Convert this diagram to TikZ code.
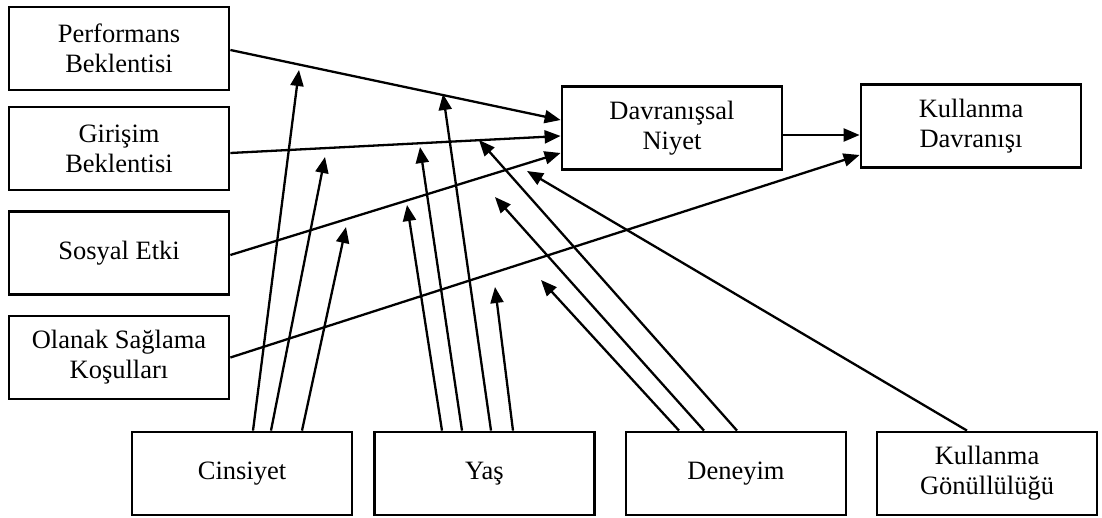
\documentclass[tikz,border=0pt]{standalone}
\usepackage{fontspec}
\setmainfont{Liberation Serif}
\usetikzlibrary{arrows.meta}
\tikzset{
  box/.style={draw, line width=2.8pt, minimum width=220pt, minimum height=83pt, inner sep=0pt, align=center, font=\fontsize{26.5}{30}\selectfont},
  conn/.style={line width=2.3pt, -{Triangle[length=16pt,width=13pt]}}
}
\begin{document}
\begin{tikzpicture}[x=1pt,y=-1pt]
\useasboundingbox (0,0) rectangle (1102,518);
% left boxes
\node[box] (perf) at (119,48.5) {Performans\\Beklentisi};
\node[box] (gir) at (119,148.5) {Girişim\\Beklentisi};
\node[box] (sos) at (119,253) {Sosyal Etki};
\node[box] (ola) at (119,357.5) {Olanak Sağlama\\Koşulları};
% middle/right boxes
\node[box] (dav) at (672,128) {Davranışsal\\Niyet};
\node[box] (kd) at (971,126) {Kullanma\\Davranışı};
% bottom boxes
\node[box] (cin) at (242,473.5) {Cinsiyet};
\node[box] (yas) at (484.5,473.5) {Yaş};
\node[box] (den) at (736,473.5) {Deneyim};
\node[box] (gon) at (987,473.5) {Kullanma\\Gönüllülüğü};
% main connectors
\draw[conn] ([yshift=-1.5pt]perf.east) -- ([yshift=8pt]dav.west);
\draw[conn] ([yshift=-4.5pt]gir.east) -- ([yshift=-8pt]dav.west);
\draw[conn] ([yshift=-2pt]sos.east) -- ([yshift=-25pt]dav.west);
\draw[conn] (ola.east) -- ([yshift=-29pt]kd.west);
\draw[conn] ([yshift=-7pt]dav.east) -- ([yshift=-9pt]kd.west);
% moderator tips
\coordinate (c1) at (299,70);
\coordinate (c2) at (325,157);
\coordinate (c3) at (346,227);
\coordinate (y1) at (407,205);
\coordinate (y2) at (420,147);
\coordinate (y3) at (443,94);
\coordinate (y4) at (495,287);
\coordinate (d1) at (541,280);
\coordinate (d2) at (495,197);
\coordinate (d3) at (479,140);
\coordinate (g1) at (527,171);
% moderator connectors
\draw[conn] ([xshift=11pt]cin.north) -- (c1);
\draw[conn] ([xshift=29pt]cin.north) -- (c2);
\draw[conn] ([xshift=60pt]cin.north) -- (c3);
\draw[conn] ([xshift=-42.5pt]yas.north) -- (y1);
\draw[conn] ([xshift=-22.5pt]yas.north) -- (y2);
\draw[conn] ([xshift=6.5pt]yas.north) -- (y3);
\draw[conn] ([xshift=28.5pt]yas.north) -- (y4);
\draw[conn] ([xshift=-57pt]den.north) -- (d1);
\draw[conn] ([xshift=-32pt]den.north) -- (d2);
\draw[conn] ([xshift=1pt]den.north) -- (d3);
\draw[conn] ([xshift=-20pt]gon.north) -- (g1);
\end{tikzpicture}
\end{document}
